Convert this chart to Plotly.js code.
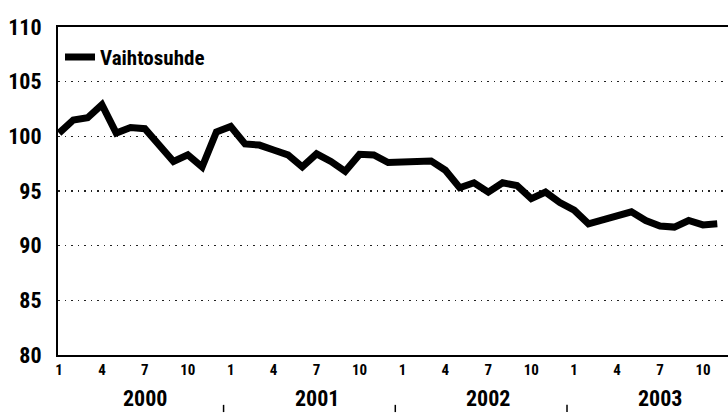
<!DOCTYPE html>
<html>
<head>
<meta charset="utf-8">
<script src="https://cdn.plot.ly/plotly-3.0.1.min.js"></script>
<style>
html,body{margin:0;padding:0;background:#fff;}
#chart{width:728px;height:413px;}
</style>
</head>
<body>
<div id="chart"></div>
<script>
// Monthly index, Jan 2000 – Nov 2003
const monthIndex = Array.from({length: 47}, (_, i) => i);
const vaihtosuhde = [
  100.3, 101.5, 101.7, 102.9, 100.3, 100.8, 100.7, 99.2, 97.7, 98.3, 97.2, 100.4,
  100.9, 99.3, 99.2, 98.75, 98.3, 97.2, 98.4, 97.7, 96.8, 98.35, 98.3, 97.6,
  97.7, 97.8, 97.75, 96.9, 95.3, 95.75, 94.9, 95.75, 95.5, 94.3, 94.9, 93.95,
  93.25, 92.0, 92.4, 92.65, 93.1, 92.3, 91.8, 91.7, 92.3, 91.9, 92.0
];
const seriesName = 'Vaihtosuhde';
const monthTickVals = [0,3,6,9,12,15,18,21,24,27,30,33,36,39,42,45];
const monthTickText = ['1','4','7','10','1','4','7','10','1','4','7','10','1','4','7','10'];
const years = ['2000','2001','2002','2003'];
const yearCenters = [6, 18, 30, 42];
const yearSeparators = [11.5, 23.5, 35.5];
const yTicks = [80, 85, 90, 95, 100, 105, 110];

const FONT = '"Roboto Condensed", Roboto, "Liberation Sans Narrow", sans-serif';

const trace = {
  x: monthIndex, y: vaihtosuhde, type: 'scatter', mode: 'lines', name: seriesName,
  line: {color: '#000', width: 7, shape: 'linear'}
};

const annotations = years.map((yr, k) => ({
  x: yearCenters[k], y: -0.174, xref: 'x', yref: 'paper', text: '<b>' + yr + '</b>',
  showarrow: false, xanchor: 'center', yanchor: 'bottom', borderpad: 0,
  font: {family: FONT, size: 22, color: '#000'}
}));

const shapes = yearSeparators.map(s => ({
  type: 'line', xref: 'x', yref: 'paper', x0: s, x1: s, y0: -0.152, y1: -0.174,
  line: {color: '#000', width: 1.5}
}));

const layout = {
  width: 728, height: 413,
  margin: {l: 58, r: 0, t: 27, b: 58},
  paper_bgcolor: '#fff', plot_bgcolor: '#fff',
  showlegend: true,
  legend: {x: 0.003, y: 0.97, xanchor: 'left', yanchor: 'top', bgcolor: 'rgba(0,0,0,0)',
           font: {family: FONT, size: 21, color: '#000', weight: 'bold'}, itemwidth: 30},
  xaxis: {
    range: [-0.07, 46.75], tickmode: 'array', tickvals: monthTickVals, ticktext: monthTickText,
    ticks: '', showgrid: false, zeroline: false, showline: true, mirror: true,
    linecolor: '#000', linewidth: 2,
    tickfont: {family: FONT, size: 15, color: '#000', weight: 'bold'}
  },
  yaxis: {
    range: [80, 110], tickmode: 'array', tickvals: yTicks, ticks: '',
    showgrid: true, gridcolor: '#222', griddash: '1.5px,5px', gridwidth: 1.5,
    zeroline: false, showline: true, linecolor: '#000', linewidth: 2,
    ticklabelstandoff: 10,
    tickfont: {family: FONT, size: 22, color: '#000', weight: 'bold'}
  },
  annotations: annotations,
  shapes: shapes
};

Plotly.newPlot('chart', [trace], layout, {displayModeBar: false, staticPlot: true});
</script>
</body>
</html>
